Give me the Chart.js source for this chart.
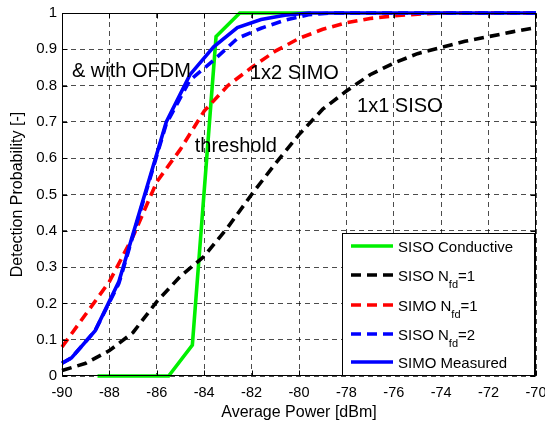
<!DOCTYPE html>
<html>
<head>
<meta charset="utf-8">
<script src="https://cdn.jsdelivr.net/npm/chart.js@4/dist/chart.umd.min.js"></script>
<style>
  html, body { margin: 0; padding: 0; background: #fff; }
  #wrap { width: 545px; height: 425px; }
</style>
</head>
<body>
<div id="wrap"><canvas id="c" width="545" height="425"></canvas></div>
<script>
// ---- data ----
const xTickLabels = ['-90','-88','-86','-84','-82','-80','-78','-76','-74','-72','-70'];
const yTickLabels = ['0','0.1','0.2','0.3','0.4','0.5','0.6','0.7','0.8','0.9','1'];

const condX = [-88.5, -87.5, -86.5, -85.5, -84.5, -83.5, -82.5, -81.5, -80.5, -79.5];
const condY = [0, 0, 0, 0, 0.085, 0.935, 1, 1, 1, 1];

const sisoX = [-90, -89, -88, -87, -86, -85, -84, -83, -82, -81, -80, -79, -78, -77, -76, -75, -74, -73, -72, -71, -70];
const sisoY = [0.015, 0.035, 0.07, 0.12, 0.205, 0.275, 0.33, 0.41, 0.5, 0.585, 0.665, 0.735, 0.785, 0.83, 0.862, 0.888, 0.905, 0.922, 0.935, 0.948, 0.96];

const simoX = [-90, -89, -88, -87, -86, -85, -84, -83, -82, -81, -80, -79, -78, -77, -76, -75, -74, -72, -70];
const simoY = [0.08, 0.17, 0.26, 0.385, 0.535, 0.625, 0.73, 0.8, 0.85, 0.895, 0.93, 0.955, 0.973, 0.985, 0.992, 0.997, 1, 1, 1];

const siso2X = [-90, -89.6, -88.6, -87.6, -86.6, -85.6, -84.6, -83.6, -82.6, -81.6, -80.6, -79.6, -78.6, -70];
const siso2Y = [0.035, 0.05, 0.125, 0.255, 0.475, 0.695, 0.815, 0.87, 0.93, 0.958, 0.98, 0.995, 1, 1];

const measX = [-90, -89.6, -88.6, -87.6, -86.6, -85.6, -84.6, -83.6, -82.6, -81.6, -80.6, -79.6, -70];
const measY = [0.035, 0.05, 0.125, 0.26, 0.48, 0.7, 0.83, 0.907, 0.96, 0.982, 0.994, 1, 1];

const seriesNames = ['SISO Conductive', 'SISO N_fd=1', 'SIMO N_fd=1', 'SISO N_fd=2', 'SIMO Measured'];
const annotationTexts = ['& with OFDM', '1x2 SIMO', '1x1 SISO', 'threshold'];

// ---- build ----
const FONT = '"Liberation Sans", Arial, Helvetica, sans-serif';
const pts = (xs, ys) => xs.map((x, i) => ({x, y: ys[i]}));

function ds(label, xs, ys, color, dash, order) {
  return {
    label, data: pts(xs, ys), borderColor: color, backgroundColor: color,
    borderWidth: 3.6, borderDash: dash, pointRadius: 0, showLine: true,
    tension: 0, clip: false, order, fill: false
  };
}

const datasets = [
  ds(seriesNames[0], condX, condY, '#00f000', [], 5),
  ds(seriesNames[1], sisoX, sisoY, '#000000', [10, 6], 4),
  ds(seriesNames[2], simoX, simoY, '#ff0000', [10, 6], 3),
  ds(seriesNames[3], siso2X, siso2Y, '#0000ff', [10, 6], 2),
  ds(seriesNames[4], measX, measY, '#0000ff', [], 1)
];

const decor = {
  id: 'decor',
  afterDatasetsDraw(chart) {
    const {ctx, chartArea: a, scales: {x, y}} = chart;
    ctx.save();
    // annotations (placed in data coordinates)
    const annPos = [[-89.58, 0.838], [-82.07, 0.832], [-77.55, 0.742], [-84.4, 0.632]];
    ctx.fillStyle = '#000';
    ctx.font = '20px ' + FONT;
    ctx.textBaseline = 'middle';
    ctx.textAlign = 'left';
    annotationTexts.forEach((t, i) => {
      ctx.fillText(t, x.getPixelForValue(annPos[i][0]), y.getPixelForValue(annPos[i][1]));
    });

    // frame
    const L = Math.round(a.left) + 0.5, R = Math.round(a.right) - 0.5;
    const T = Math.round(a.top) + 0.5, B = Math.round(a.bottom) - 0.5;
    ctx.setLineDash([]);
    ctx.strokeStyle = '#000';
    ctx.lineWidth = 1;
    ctx.strokeRect(L, T, R - L, B - T);
    // inward tick marks
    ctx.beginPath();
    x.ticks.forEach(t => {
      const px = Math.round(x.getPixelForValue(t.value)) + 0.5;
      ctx.moveTo(px, B); ctx.lineTo(px, B - 5);
      ctx.moveTo(px, T); ctx.lineTo(px, T + 5);
    });
    y.ticks.forEach(t => {
      const py = Math.round(y.getPixelForValue(t.value)) + 0.5;
      ctx.moveTo(L, py); ctx.lineTo(L + 5, py);
      ctx.moveTo(R, py); ctx.lineTo(R - 5, py);
    });
    ctx.stroke();

    // legend
    const bx = 342.5, by = 233.5, bw = 192, bh = B - 233.5;
    ctx.fillStyle = '#fff';
    ctx.fillRect(bx, by, bw, bh);
    ctx.strokeRect(bx, by, bw, bh);
    const rows = [246, 275, 305, 334, 362];
    chart.data.datasets.forEach((d, i) => {
      const ry = rows[i];
      ctx.save();
      ctx.strokeStyle = d.borderColor;
      ctx.lineWidth = d.borderWidth;
      ctx.setLineDash(d.borderDash);
      ctx.beginPath();
      ctx.moveTo(351, ry); ctx.lineTo(393, ry);
      ctx.stroke();
      ctx.restore();
      ctx.fillStyle = '#000';
      ctx.textBaseline = 'middle';
      ctx.textAlign = 'left';
      const name = seriesNames[i];
      let tx = 398;
      const ty = ry + 2;
      const m = name.match(/^(.*)_(\w+)(=.*)$/);
      ctx.font = '15px ' + FONT;
      if (m) {
        ctx.fillText(m[1], tx, ty);
        tx += ctx.measureText(m[1]).width;
        ctx.font = '11px ' + FONT;
        ctx.fillText(m[2], tx, ty + 8);
        tx += ctx.measureText(m[2]).width;
        ctx.font = '15px ' + FONT;
        ctx.fillText(m[3], tx, ty);
      } else {
        ctx.fillText(name, tx, ty);
      }
    });
    ctx.restore();
  }
};

const gridCommon = { color: 'rgba(0,0,0,0.7)', lineWidth: 1, drawTicks: false };

new Chart(document.getElementById('c'), {
  type: 'scatter',
  data: { datasets },
  options: {
    responsive: false,
    animation: false,
    devicePixelRatio: 1,
    layout: { padding: { left: 0, right: 9, top: 13, bottom: 0 } },
    plugins: { legend: { display: false }, tooltip: { enabled: false } },
    scales: {
      x: {
        type: 'linear', min: -90, max: -70,
        ticks: {
          stepSize: 2, autoSkip: false, maxRotation: 0, color: '#000', padding: 8,
          font: { family: FONT, size: 14.5 },
          callback: (v, i) => xTickLabels[i]
        },
        grid: gridCommon,
        border: { display: false, dash: [5, 4] },
        title: { display: true, text: 'Average Power [dBm]', color: '#000',
                 font: { family: FONT, size: 16 }, padding: { top: 0, bottom: 3 } },
        afterFit: s => { s.height = 49; s.paddingLeft = 0; s.paddingRight = 0; }
      },
      y: {
        type: 'linear', min: 0, max: 1,
        ticks: {
          stepSize: 0.1, autoSkip: false, color: '#000', padding: 5,
          font: { family: FONT, size: 15 },
          callback: (v, i) => yTickLabels[i]
        },
        grid: gridCommon,
        border: { display: false, dash: [5, 4] },
        title: { display: true, text: 'Detection Probability [-]', color: '#000',
                 font: { family: FONT, size: 16 }, padding: { top: 8, bottom: 0 } },
        afterFit: s => { s.width = 62; s.paddingTop = 0; s.paddingBottom = 0; }
      }
    }
  },
  plugins: [decor]
});
</script>
</body>
</html>
